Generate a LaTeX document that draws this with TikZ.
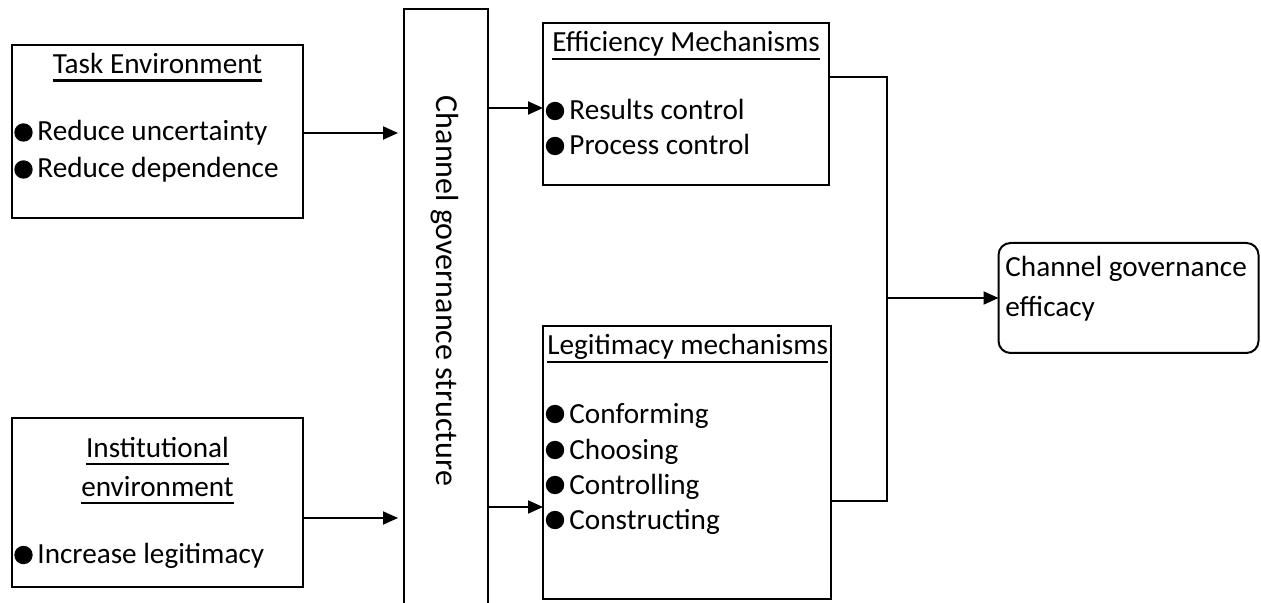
\documentclass[tikz,border=0pt]{standalone}
\usepackage{fontspec}
\setmainfont{Carlito}
\usetikzlibrary{arrows.meta}
% heavier underline set a little below the baseline
\newcommand\ulined[1]{\setbox0\hbox{#1}\rlap{\rule[-4.1pt]{\wd0}{1.1pt}}\box0}
\begin{document}
\begin{tikzpicture}[x=0.5pt,y=-0.5pt,
  box/.style={draw, line width=1pt, inner sep=0pt, outer sep=0pt},
  txt/.style={inner sep=0pt, font=\fontsize{14.6}{17}\selectfont},
  lbl/.style={txt, anchor=base west},
  ttl/.style={txt, anchor=base},
  dot/.style={circle, fill, inner sep=0pt, minimum size=9.2pt},
  conn/.style={line width=1pt},
  arr/.style={conn, -{Triangle[length=7.5pt,width=6.5pt]}}]
\useasboundingbox (0,0) rectangle (1261,603);
\clip (0,0) rectangle (1261,603);

% boxes
\node[box, minimum width=145.5pt, minimum height=86.5pt] (task) at (157.5,131.5) {};
\node[box, minimum width=145.5pt, minimum height=84.5pt] (inst) at (157.5,502.5) {};
\node[box, minimum width=42pt, minimum height=315.5pt] (chan) at (446,324.5) {};
\node[box, minimum width=143pt, minimum height=81pt] (eff) at (686,104) {};
\node[box, minimum width=144pt, minimum height=136.5pt] (leg) at (687,462.5) {};
\node[box, rounded corners=6pt, minimum width=130pt, minimum height=55pt] (effc) at (1128.5,298) {};

% task environment
\node[ttl] (taskT) at (157.5,73.5) {\ulined{Task Environment}};
\node[dot] (taskD1) at (23.5,132.5) {};
\node[lbl] (taskL1) at (37,141) {Reduce uncertainty};
\node[dot] (taskD2) at (23.5,169.5) {};
\node[lbl] (taskL2) at (37,178) {Reduce dependence};

% institutional environment
\node[ttl] (instT1) at (157.5,457) {\ulined{Institutional}};
\node[ttl] (instT2) at (157.5,496) {\ulined{environment}};
\node[dot] (instD1) at (23.5,555) {};
\node[lbl] (instL1) at (37,563) {Increase legitimacy};

% governance structure
\node[txt, font=\fontsize{16}{19}\selectfont, rotate=-90] (chanT) at (445,291) {Channel governance structure};

% efficiency mechanisms
\node[lbl] (effT) at (552,52) {\ulined{Efficiency Mechanisms}};
\node[dot] (effD1) at (555,111) {};
\node[lbl] (effL1) at (569,120) {Results control};
\node[dot] (effD2) at (555,146) {};
\node[lbl] (effL2) at (569,155) {Process control};

% legitimacy mechanisms
\node[lbl] (legT) at (547,355) {\ulined{Legitimacy mechanisms}};
\node[dot] (legD1) at (555,414) {};
\node[lbl] (legL1) at (569,423) {Conforming};
\node[dot] (legD2) at (555,450) {};
\node[lbl] (legL2) at (569,459) {Choosing};
\node[dot] (legD3) at (555,485) {};
\node[lbl] (legL3) at (569,494) {Controlling};
\node[dot] (legD4) at (555,520) {};
\node[lbl] (legL4) at (569,529) {Constructing};

% efficacy
\node[lbl] (effcL1) at (1005,277) {Channel governance};
\node[lbl] (effcL2) at (1005,317) {efficacy};

% connectors
\draw[arr, shorten >=3pt] (task.east |- 0,133) -- (chan.west |- 0,133);
\draw[arr, shorten >=3pt] (inst.east |- 0,518) -- (chan.west |- 0,518);
\draw[arr] (chan.east |- 0,108) -- (eff.west |- 0,108);
\draw[arr] (chan.east |- 0,507) -- (leg.west |- 0,507);
\coordinate (j) at (887,298);
\draw[conn] (eff.east |- 0,77) -- (j |- 0,77) -- (j |- 0,501) -- (leg.east |- 0,501);
\draw[arr] (j) -- (effc.west);
\end{tikzpicture}
\end{document}
